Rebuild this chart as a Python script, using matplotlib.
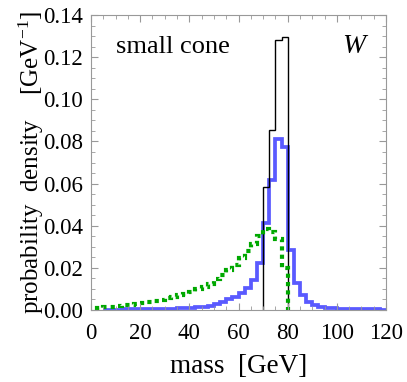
import numpy as np
import matplotlib.pyplot as plt
from matplotlib.ticker import MultipleLocator

# --- data (probability density per 2.5 GeV bin) ---
black_edges = [70, 72.5, 75, 77.5, 80]
black_vals = [0.0585, 0.0855, 0.1280, 0.1296]

blue_edges = np.arange(5, 122.5, 2.5)
blue_vals = [0.0002, 0.0002, 0.0002, 0.0003, 0.0003, 0.0003, 0.0004, 0.0004,
             0.0005, 0.0005, 0.0006, 0.0007, 0.0008, 0.0009,
             0.0011, 0.0013, 0.0016, 0.0021, 0.0028, 0.0040, 0.0051, 0.0063,
             0.0079, 0.0103, 0.0142, 0.0222, 0.0414, 0.0617, 0.0810, 0.0775,
             0.0285, 0.0127, 0.0072, 0.0040, 0.0024, 0.0016, 0.0011, 0.0008,
             0.0006, 0.0005, 0.0004, 0.0004, 0.0003, 0.0003, 0.0003, 0.0002]

green_edges = np.arange(2.5, 82.5, 2.5)
green_vals = [0.0010, 0.0012, 0.0015, 0.0018, 0.0022, 0.0026, 0.0030, 0.0034,
              0.0038, 0.0043, 0.0049, 0.0055, 0.0062, 0.0069, 0.0077, 0.0087,
              0.0098, 0.0110, 0.0125, 0.0145, 0.0165, 0.0190, 0.0215, 0.0245,
              0.0280, 0.0315, 0.0350, 0.0385, 0.0370, 0.0335, 0.0200]

x_ticks = [0, 20, 40, 60, 80, 100, 120]
y_ticks = [0.00, 0.02, 0.04, 0.06, 0.08, 0.10, 0.12, 0.14]

plt.rcParams['font.family'] = ['Liberation Serif', 'DejaVu Serif']
plt.rcParams['mathtext.fontset'] = 'custom'
plt.rcParams['mathtext.rm'] = 'Liberation Serif'
plt.rcParams['mathtext.it'] = 'Liberation Serif:italic'

fig = plt.figure(figsize=(4.07, 3.82), dpi=100)
ax = fig.add_axes([0.2236, 0.1885, 0.7248, 0.7722])

ax.stairs(blue_vals, blue_edges, color='#5a5aff', lw=2.7, baseline=0)
ax.stairs(black_vals, black_edges, color='black', lw=1.0, baseline=0)
ax.stairs(green_vals, green_edges, color='#00a800', lw=3.0,
          linestyle=(0, (1, 1)), baseline=0)

for p in ax.patches:
    p.set_capstyle('butt')

ax.set_xlim(0, 120)
ax.set_ylim(0, 0.14)
ax.set_xticks(x_ticks)
ax.set_yticks(y_ticks)
ax.set_yticklabels([f'{v:.2f}' for v in y_ticks])
ax.xaxis.set_minor_locator(MultipleLocator(5))
ax.yaxis.set_minor_locator(MultipleLocator(0.005))
ax.tick_params(which='both', direction='in', top=True, right=True,
               color='#999999', labelsize=16.5)
ax.tick_params(axis='x', which='both', pad=9.5)
ax.tick_params(axis='y', which='both', pad=5.5)
ax.tick_params(which='major', length=5, width=0.8)
ax.tick_params(which='minor', length=3, width=0.6)
for s in ax.spines.values():
    s.set_color('#999999')
    s.set_linewidth(0.8)

ax.set_xlabel('mass  [GeV]', fontsize=19.5, labelpad=7)
ax.set_ylabel('probability  density    [GeV$^{-1}$]', fontsize=18, labelpad=-2)

ax.text(0.085, 0.89, 'small cone', transform=ax.transAxes, fontsize=19,
        va='center', ha='left')
ax.text(0.89, 0.893, 'W', transform=ax.transAxes, fontsize=20,
        style='italic', va='center', ha='center')

fig.savefig('out.png', dpi=100)
